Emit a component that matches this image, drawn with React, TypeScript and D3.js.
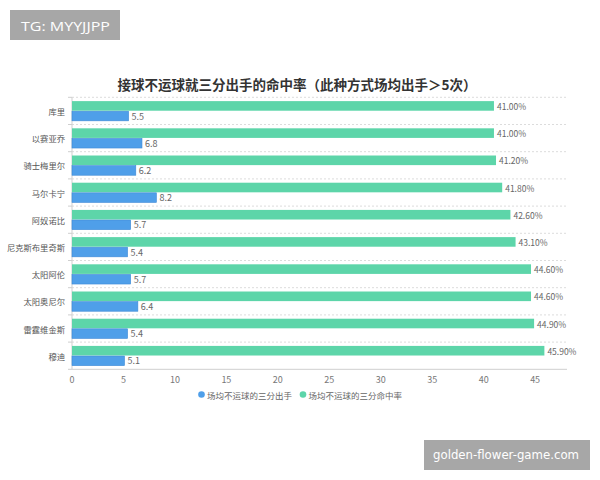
import React from "react";
import * as d3 from "d3";

const players = ["库里", "以赛亚乔", "骑士梅里尔", "马尔卡宁", "阿奴诺比", "尼克斯布里奇斯", "太阳阿伦", "太阳奥尼尔", "雷霆维金斯", "穆迪"];
const attempts = [5.5, 6.8, 6.2, 8.2, 5.7, 5.4, 5.7, 6.4, 5.4, 5.1];
const accuracy = [41.0, 41.0, 41.2, 41.8, 42.6, 43.1, 44.6, 44.6, 44.9, 45.9];
const xTicks = [0, 5, 10, 15, 20, 25, 30, 35, 40, 45];
const seriesNames = ["场均不运球的三分出手", "场均不运球的三分命中率"];
const title = "接球不运球就三分出手的命中率（此种方式场均出手＞5次）";

const BLUE = "#4f9fe9";
const GREEN = "#5dd5a9";
const FONT = "'Noto Sans CJK SC', 'Noto Sans', sans-serif";

export default function App() {
  const W = 600, H = 480;
  const left = 72, right = 566, top = 97.3, bottom = 369.3;
  const x = d3.scaleLinear().domain([0, 48]).range([left, right]);
  const y = d3.scaleBand<string>().domain(players).range([top, bottom]).padding(0);
  const bw = y.bandwidth();
  const inner = d3.scaleBand<string>().domain(["rate", "shots"]).range([bw * 0.14, bw * 0.865]).paddingInner(0.05);
  const ih = inner.bandwidth();

  return (
    <svg width={W} height={H} style={{ position: "absolute", left: 0, top: 0, background: "#fff" }} fontFamily={FONT}>
      <rect x={0} y={0} width={W} height={H} fill="#fff" />
      {/* top-left watermark */}
      <rect x={10} y={10} width={110} height={30} fill="#a7a7a7" />
      <text x={21} y={30.5} fill="#fff" fontSize={13.5} fontFamily="'Open Sans', sans-serif" textLength={89} lengthAdjust="spacingAndGlyphs">TG: MYYJJPP</text>

      {/* title */}
      <text x={297} y={90} textAnchor="middle" fill="#333" fontSize={13.5} fontWeight="bold">{title}</text>

      {/* grid lines at band boundaries */}
      {players.map((p, i) => (
        <line key={"g" + i} x1={left} x2={right + 1} y1={y(p)!} y2={y(p)!} stroke="#dcdcdc" strokeDasharray="2,2" />
      ))}
      {/* axes */}
      <line x1={left} x2={left} y1={top} y2={bottom} stroke="#cfcfcf" />
      <line x1={left} x2={right + 1} y1={bottom} y2={bottom} stroke="#cfcfcf" />
      {players.map((p, i) => (
        <line key={"t" + i} x1={left - 4} x2={left} y1={y(p)!} y2={y(p)!} stroke="#cfcfcf" />
      ))}
      <line x1={left - 4} x2={left} y1={bottom} y2={bottom} stroke="#cfcfcf" />

      {/* bars */}
      {players.map((p, i) => {
        const y0 = y(p)!;
        const yr = y0 + inner("rate")!;
        const ys = y0 + inner("shots")!;
        return (
          <g key={p}>
            <rect x={x(0)} y={yr} width={x(accuracy[i]) - x(0)} height={ih} fill={GREEN} />
            <text x={x(accuracy[i]) + 3} y={yr + ih / 2} dominantBaseline="central" fontSize={8.5} fill="#666">
              {accuracy[i].toFixed(2) + "%"}
            </text>
            <rect x={x(0)} y={ys} width={x(attempts[i]) - x(0)} height={ih} fill={BLUE} stroke="#3f8ad6" strokeWidth={0.6} />
            <text x={x(attempts[i]) + 3} y={ys + ih / 2} dominantBaseline="central" fontSize={9} fill="#666">
              {attempts[i].toFixed(1)}
            </text>
            <text x={left - 7} y={y0 + bw / 2} textAnchor="end" dominantBaseline="central" fontSize={8.3} fill="#555">
              {p}
            </text>
          </g>
        );
      })}

      {/* x tick labels */}
      {xTicks.map((t) => (
        <text key={t} x={x(t)} y={379} textAnchor="middle" dominantBaseline="central" fontSize={9} fill="#777">
          {t}
        </text>
      ))}

      {/* legend */}
      <circle cx={201.5} cy={394.5} r={3.3} fill={BLUE} />
      <text x={207} y={394.5} dominantBaseline="central" fontSize={8.5} fill="#666">{seriesNames[0]}</text>
      <circle cx={303} cy={394.5} r={3.3} fill={GREEN} />
      <text x={308.5} y={394.5} dominantBaseline="central" fontSize={8.5} fill="#666">{seriesNames[1]}</text>

      {/* bottom-right watermark */}
      <rect x={424} y={440} width={166} height={30} fill="#a7a7a7" />
      <text x={433} y={459} fill="#fff" fontSize={12.5} fontFamily="'DejaVu Sans', sans-serif" textLength={146} lengthAdjust="spacingAndGlyphs">golden-flower-game.com</text>
    </svg>
  );
}
